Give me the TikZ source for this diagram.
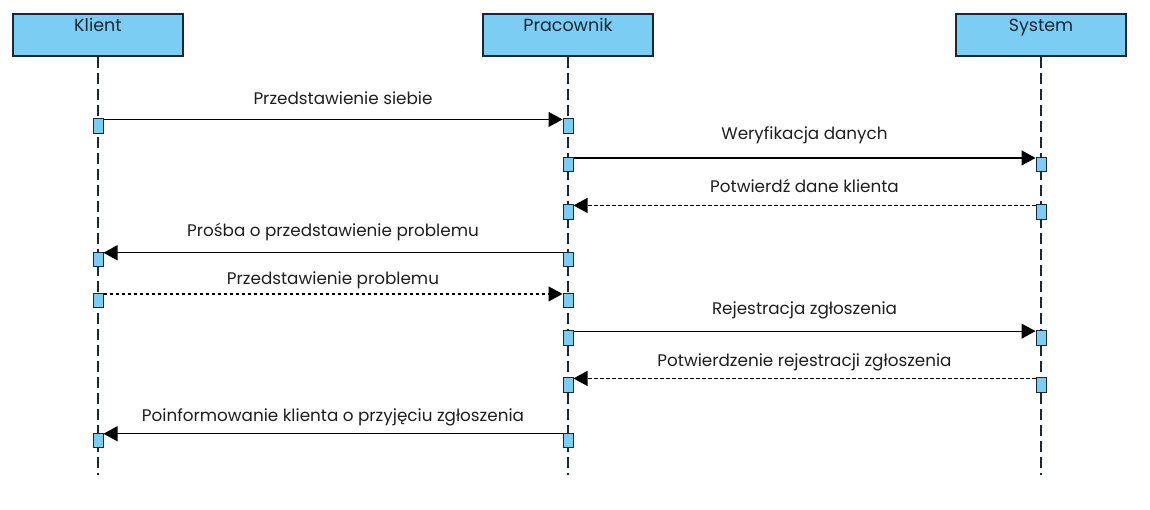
\documentclass[tikz,border=0pt]{standalone}
\usepackage{fontspec}
\setmainfont{Poppins}
\usetikzlibrary{arrows.meta,positioning}
\definecolor{SeqFill}{HTML}{7CCDF3}
\definecolor{SeqInk}{HTML}{1B2733}
\definecolor{SeqText}{HTML}{1E1E1E}
\tikzset{
  seq/actor/.style={
    draw=SeqInk, line width=1.1pt, fill=SeqFill,
    minimum width=170pt, minimum height=42pt, inner sep=0pt
  },
  seq/name/.style={font=\fontsize{17.5}{20}\selectfont, text=SeqInk, inner sep=0pt, anchor=base},
  seq/lifeline/.style={draw=SeqInk, line width=1.3pt, dash pattern=on 11pt off 5pt},
  seq/act/.style={
    draw=SeqInk, line width=1pt, fill=SeqFill,
    minimum width=10pt, minimum height=14.5pt, inner sep=0pt
  },
  seq/call/.style={
    -{Triangle[length=14pt,width=15pt]}, line width=1.1pt, draw=black
  },
  seq/reply/.style={seq/call, dash pattern=on 3.5pt off 2.5pt},
  seq/label/.style={font=\fontsize{16.8}{19}\selectfont, text=SeqText, anchor=base, inner sep=0pt}
}
\begin{document}
\begin{tikzpicture}[x=1pt,y=-1pt]
  \useasboundingbox (0,0) rectangle (1150,509);
  % actors
  \node[seq/actor] (klient) at (98,35) {};
  \node[seq/actor] (pracownik) at (568,35) {};
  \node[seq/actor] (system) at (1041,35) {};
  \node[seq/name] (klientName) at ([yshift=-17.7pt]klient.north) {Klient};
  \node[seq/name] (pracownikName) at ([yshift=-17.7pt]pracownik.north) {Pracownik};
  \node[seq/name] (systemName) at ([yshift=-17.7pt]system.north) {System};
  \coordinate (klientEnd) at (98,475);
  \coordinate (pracownikEnd) at (568,475);
  \coordinate (systemEnd) at (1041,475);
  \draw[seq/lifeline] (klient.south) -- (klientEnd);
  \draw[seq/lifeline] (pracownik.south) -- (pracownikEnd);
  \draw[seq/lifeline] (system.south) -- (systemEnd);
  % activations
  \node[seq/act] (k1) at (98,126.2) {};
  \node[seq/act] (p1) at (568,126.2) {};
  \node[seq/act] (p2) at (568,164.7) {};
  \node[seq/act] (s2) at (1041,164.7) {};
  \node[seq/act] (p3) at (568,212.2) {};
  \node[seq/act] (s3) at (1041,212.2) {};
  \node[seq/act] (k4) at (98,259.5) {};
  \node[seq/act] (p4) at (568,259.5) {};
  \node[seq/act] (k5) at (98,300.7) {};
  \node[seq/act] (p5) at (568,300.7) {};
  \node[seq/act] (p6) at (568,337.9) {};
  \node[seq/act] (s6) at (1041,337.9) {};
  \node[seq/act] (p7) at (568,385.2) {};
  \node[seq/act] (s7) at (1041,385.2) {};
  \node[seq/act] (k8) at (98,440.5) {};
  \node[seq/act] (p8) at (568,440.5) {};
  % messages
  \draw[seq/call] ([yshift=-1pt]k1.north east) -- ([yshift=-1pt]p1.north west)
    node[seq/label,midway,xshift=10pt,yshift=14.5pt] {Przedstawienie siebie};
  \draw[seq/call] ([yshift=-1pt]p2.north east) -- ([yshift=-1pt]s2.north west)
    node[seq/label,midway,yshift=18pt] {Weryfikacja danych};
  \draw[seq/reply] ([yshift=-1pt]s3.north west) -- ([yshift=-1pt]p3.north east)
    node[seq/label,midway,yshift=13.3pt] {Potwierdź dane klienta};
  \draw[seq/call] ([yshift=-1pt]p4.north west) -- ([yshift=-1pt]k4.north east)
    node[seq/label,midway,yshift=16.7pt] {Prośba o przedstawienie problemu};
  \draw[seq/reply] ([yshift=-1pt]k5.north east) -- ([yshift=-1pt]p5.north west)
    node[seq/label,midway,yshift=9.7pt] {Przedstawienie problemu};
  \draw[seq/call] ([yshift=-1pt]p6.north east) -- ([yshift=-1pt]s6.north west)
    node[seq/label,midway,yshift=16.7pt] {Rejestracja zgłoszenia};
  \draw[seq/reply] ([yshift=-1pt]s7.north west) -- ([yshift=-1pt]p7.north east)
    node[seq/label,midway,yshift=11.7pt] {Potwierdzenie rejestracji zgłoszenia};
  \draw[seq/call] ([yshift=-1pt]p8.north west) -- ([yshift=-1pt]k8.north east)
    node[seq/label,midway,yshift=12.7pt] {Poinformowanie klienta o przyjęciu zgłoszenia};
\end{tikzpicture}
\end{document}
